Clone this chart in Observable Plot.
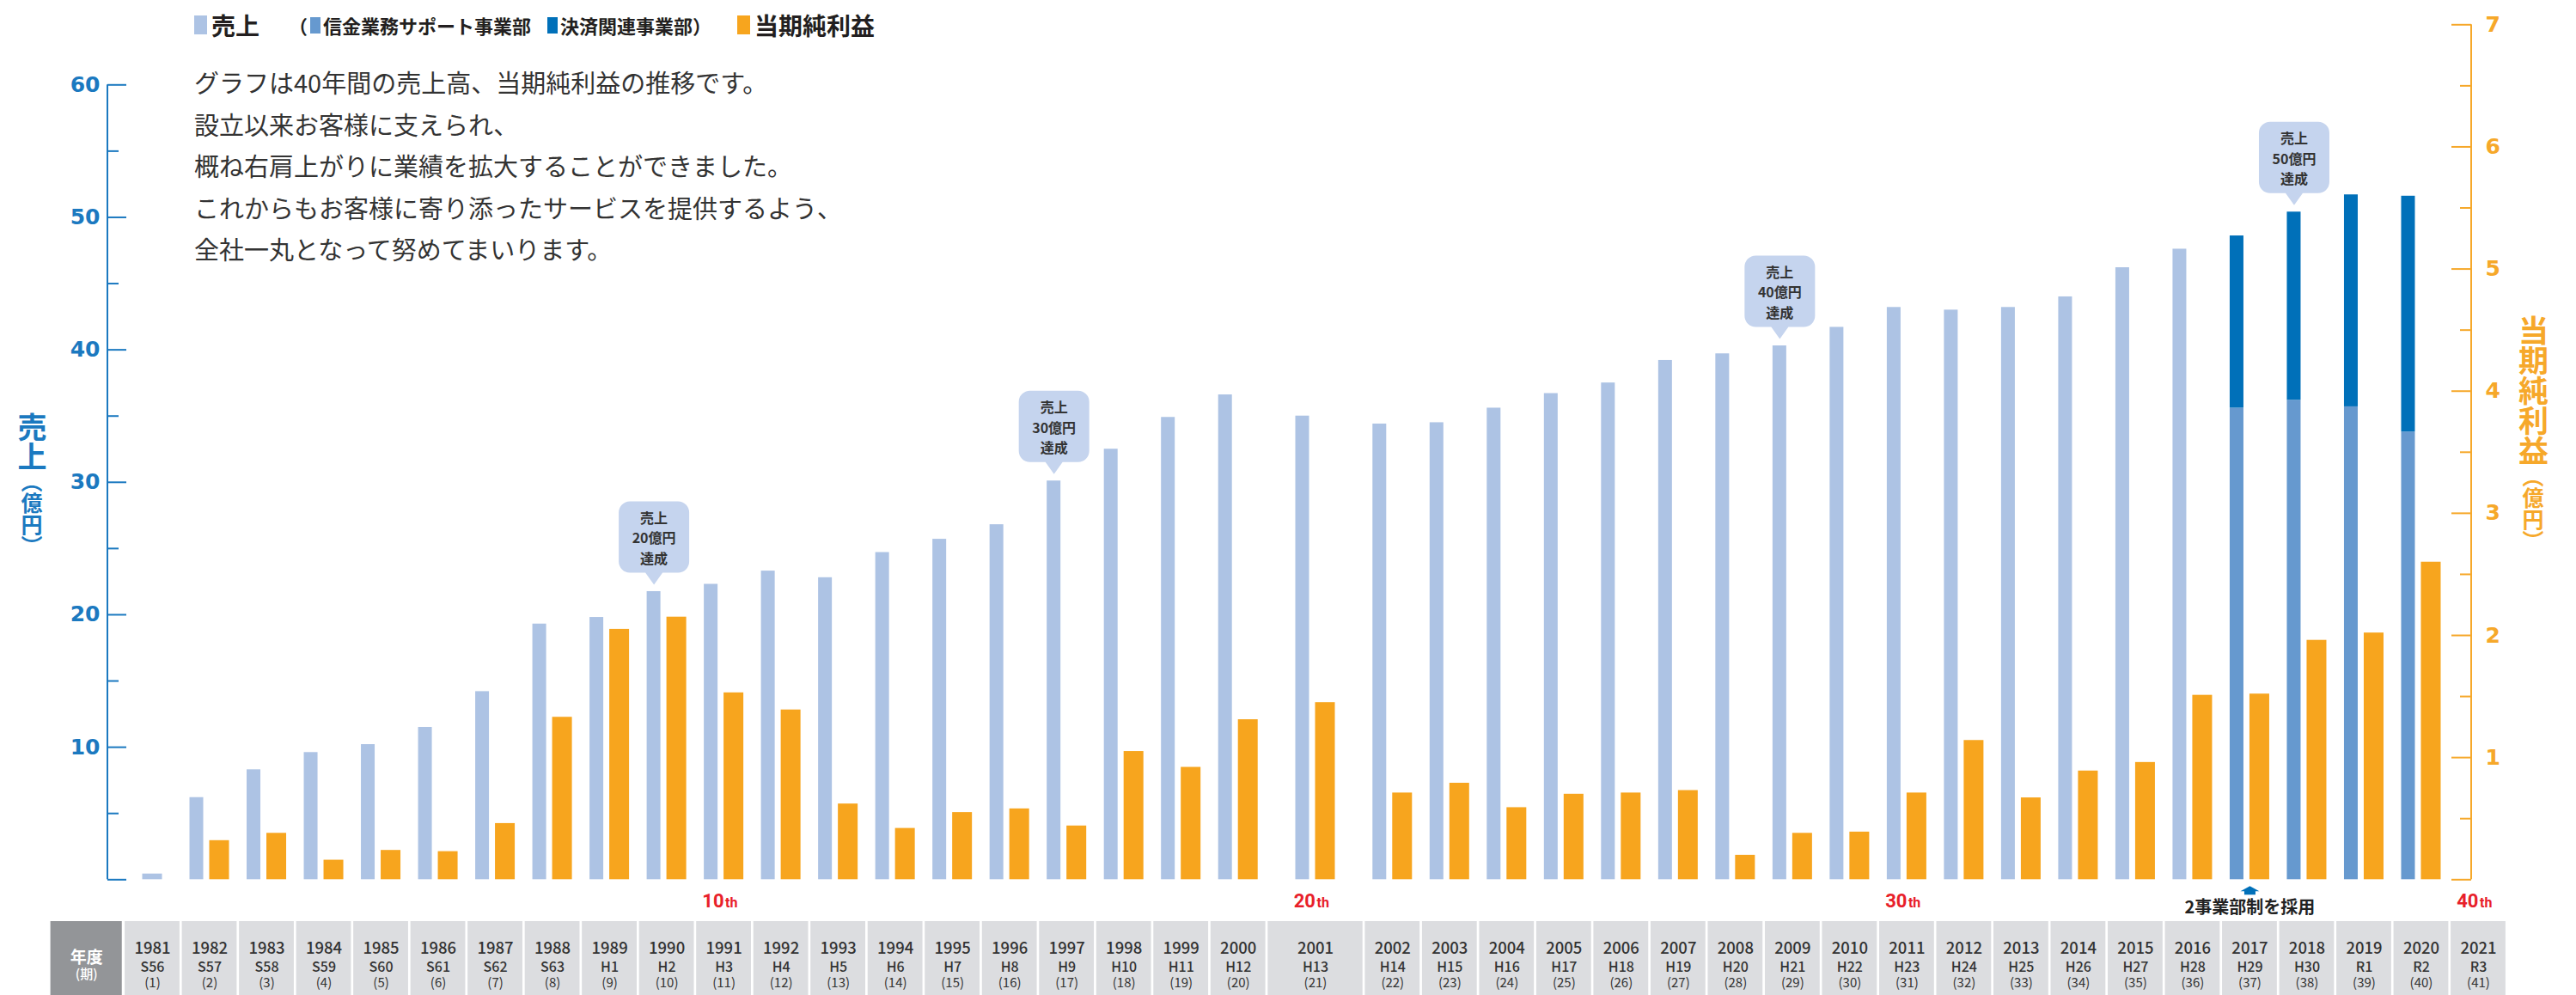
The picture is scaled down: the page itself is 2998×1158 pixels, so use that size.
<!DOCTYPE html>
<html><head><meta charset="utf-8">
<script src="https://cdn.jsdelivr.net/npm/d3@7"></script>
<script src="https://cdn.jsdelivr.net/npm/@observablehq/plot@0.6"></script>
<style>
body{margin:0;background:#fff;}
#wrap{position:relative;width:2998px;height:1158px;overflow:hidden;background:#fff;font-family:'Noto Sans CJK JP',sans-serif;color:#231f20;}
#wrap svg{position:absolute;left:0;overflow:visible;}
.lg{position:absolute;display:flex;align-items:center;white-space:nowrap;font-weight:700;}
.sq{display:inline-block;margin-right:5px;}
#desc{position:absolute;left:226px;top:71px;font-size:29px;line-height:48.5px;color:#333;white-space:nowrap;}
.vt{position:absolute;writing-mode:vertical-rl;font-weight:700;line-height:1;}
</style></head><body><div id="wrap"></div>
<script>
// ---------------- data ----------------
const years = [1981,1982,1983,1984,1985,1986,1987,1988,1989,1990,1991,1992,1993,1994,1995,1996,1997,1998,1999,2000,2001,2002,2003,2004,2005,2006,2007,2008,2009,2010,2011,2012,2013,2014,2015,2016,2017,2018,2019,2020,2021];
const eras = ["S56","S57","S58","S59","S60","S61","S62","S63","H1","H2","H3","H4","H5","H6","H7","H8","H9","H10","H11","H12","H13","H14","H15","H16","H17","H18","H19","H20","H21","H22","H23","H24","H25","H26","H27","H28","H29","H30","R1","R2","R3"];
const periods = ["(1)","(2)","(3)","(4)","(5)","(6)","(7)","(8)","(9)","(10)","(11)","(12)","(13)","(14)","(15)","(16)","(17)","(18)","(19)","(20)","(21)","(22)","(23)","(24)","(25)","(26)","(27)","(28)","(29)","(30)","(31)","(32)","(33)","(34)","(35)","(36)","(37)","(38)","(39)","(40)","(41)"];
// 売上 (億円), total
const sales = [0.43,6.2,8.3,9.6,10.2,11.5,14.2,19.3,19.8,21.75,22.3,23.3,22.8,24.7,25.7,26.8,30.1,32.5,34.9,36.6,35.0,34.4,34.5,35.6,36.7,37.5,39.2,39.7,40.3,41.7,43.2,43.0,43.2,44.0,46.2,47.6,48.6,50.4,51.7,51.6,null];
// 2事業部 breakdown
const segYears = [2017,2018,2019,2020];
const segShinkin = [35.6,36.2,35.7,33.8];   // 信金業務サポート事業部
const segKessai  = [13.0,14.2,16.0,17.8];   // 決済関連事業部
// 当期純利益 (億円)
const profit = [null,0.32,0.38,0.16,0.24,0.23,0.46,1.33,2.05,2.15,1.53,1.39,0.62,0.42,0.55,0.58,0.44,1.05,0.92,1.31,1.45,0.71,0.79,0.59,0.70,0.71,0.73,0.20,0.38,0.39,0.71,1.14,0.67,0.89,0.96,1.51,1.52,1.96,2.02,2.60,null];
const callYears = [1990,1997,2009,2018];
const callLabels = ["20億円","30億円","40億円","50億円"];
const mileYears = [1991,2001,2011,2021];
const mileLabels = ["10","20","30","40"];
const leftTicks = [0,10,20,30,40,50,60];
const leftMinor = [5,15,25,35,45,55];
const rightTicks = [0,1,2,3,4,5,6,7];
const rightMinor = [0.5,1.5,2.5,3.5,4.5,5.5,6.5];

// ---------------- layout / style ----------------
const C_SALES="#adc3e4", C_SHIN="#6699cf", C_KES="#0070b9", C_PROF="#f7a51e";
const C_BLUE="#1b79c0", C_ORG="#f6a82a", C_RED="#e8202a", C_BUB="#c5d4ee";
const W=2998, H_MAIN=1072, H_TAB=86;
const M={left:125,right:122,top:28.3,bottom:48.7};
const FRAME_W=W-M.left-M.right;
const S=9.22; // 売上 units per 当期純利益 unit (aligns the two y axes)
const colW = y => y===2001 ? 1.7 : 1;
let acc=0;
const cols = years.map((year,i)=>{const w=colW(year);const c={year,era:eras[i],period:periods[i],x1:acc,x2:acc+w,cx:acc+w/2,sales:sales[i],profit:profit[i]};acc+=w;return c;});
const TOTAL=acc;
const cxOf = y => cols.find(c=>c.year===y).cx;
const xScale={type:"linear",domain:[0,TOTAL],range:[143.75,2917.25],axis:null};
const font="'Noto Sans CJK JP',sans-serif";

const segRows = segYears.map((year,i)=>({year,cx:cxOf(year),a:segShinkin[i],b:segKessai[i]}));
const plain = cols.filter(c=>c.sales!=null && !segYears.includes(c.year));
const callouts = callYears.map((year,i)=>({year,label:callLabels[i],cx:cxOf(year),v:cols.find(c=>c.year===year).sales}));
const miles = mileYears.map((year,i)=>({cx:cxOf(year),n:mileLabels[i]}));

const bubble={draw(ctx){const w=41,h=83,t=14,pw=10,r=13,top=-t-h,bot=-t;
  ctx.moveTo(0,0);ctx.lineTo(-pw,bot);ctx.lineTo(-w+r,bot);ctx.arcTo(-w,bot,-w,bot-r,r);ctx.lineTo(-w,top+r);ctx.arcTo(-w,top,-w+r,top,r);
  ctx.lineTo(w-r,top);ctx.arcTo(w,top,w,top+r,r);ctx.lineTo(w,bot-r);ctx.arcTo(w,bot,w-r,bot,r);ctx.lineTo(pw,bot);ctx.closePath();}};
const arrow={draw(ctx){ctx.moveTo(0,-5);ctx.lineTo(11,1);ctx.lineTo(6.5,1);ctx.lineTo(6.5,5);ctx.lineTo(-6.5,5);ctx.lineTo(-6.5,1);ctx.lineTo(-11,1);ctx.closePath();}};

const main = Plot.plot({
  width:W,height:H_MAIN,marginLeft:M.left,marginRight:M.right,marginTop:M.top,marginBottom:M.bottom,
  x:xScale,
  y:{domain:[0,7],range:[1023.3,28.3],axis:null},
  style:{fontFamily:font,background:"transparent",overflow:"visible"},
  marks:[
    // bars
    Plot.rect(plain.filter(d=>d.profit!=null),{x1:d=>d.cx-.5,x2:d=>d.cx+.5,y1:0,y2:d=>d.sales/S,insetLeft:10.25,insetRight:40.25,fill:C_SALES}),
    Plot.rect(plain.filter(d=>d.profit==null),{x1:d=>d.cx-.5,x2:d=>d.cx+.5,y1:0,y2:d=>d.sales/S,insetLeft:21.75,insetRight:21.75,fill:C_SALES}),
    Plot.rect(segRows,{x1:d=>d.cx-.5,x2:d=>d.cx+.5,y1:0,y2:d=>d.a/S,insetLeft:10.25,insetRight:40.25,fill:C_SHIN}),
    Plot.rect(segRows,{x1:d=>d.cx-.5,x2:d=>d.cx+.5,y1:d=>d.a/S,y2:d=>(d.a+d.b)/S,insetLeft:10.25,insetRight:40.25,fill:C_KES}),
    Plot.rect(cols.filter(d=>d.profit!=null),{x1:d=>d.cx-.5,x2:d=>d.cx+.5,y1:0,y2:d=>d.profit,insetLeft:33.25,insetRight:10.25,fill:C_PROF}),
    // left axis
    Plot.rect([0],{y1:0,y2:60/S,insetLeft:-1,insetRight:FRAME_W-1,fill:C_BLUE}),
    Plot.ruleY(leftTicks,{y:d=>d/S,insetRight:FRAME_W-22,stroke:C_BLUE,strokeWidth:2}),
    Plot.ruleY(leftMinor,{y:d=>d/S,insetRight:FRAME_W-13,stroke:C_BLUE,strokeWidth:2}),
    Plot.text(leftTicks.filter(d=>d>0),{y:d=>d/S,text:d=>String(d),frameAnchor:"left",dx:-9,textAnchor:"end",fill:C_BLUE,fontSize:25,fontWeight:700,fontFamily:"'DejaVu Sans',sans-serif"}),
    // right axis
    Plot.rect([0],{y1:0,y2:7,insetLeft:FRAME_W-1,insetRight:-1,fill:C_ORG}),
    Plot.ruleY(rightTicks,{y:d=>d,insetLeft:FRAME_W-23,stroke:C_ORG,strokeWidth:2}),
    Plot.ruleY(rightMinor,{y:d=>d,insetLeft:FRAME_W-13,stroke:C_ORG,strokeWidth:2}),
    Plot.text(rightTicks.filter(d=>d>0),{y:d=>d,text:d=>String(d),frameAnchor:"right",dx:16,textAnchor:"start",fill:C_ORG,fontSize:25,fontWeight:700,fontFamily:"'DejaVu Sans',sans-serif"}),
    // callouts
    Plot.dot(callouts,{x:"cx",y:d=>d.v/S,symbol:bubble,r:10,fill:C_BUB,stroke:"none",dx:-15,dy:-8}),
    Plot.text(callouts,{x:"cx",y:d=>d.v/S,text:d=>`売上\n${d.label}\n達成`,dx:-15,dy:-63.5,lineHeight:1.46,fontSize:16,fontWeight:700,fill:"#333"}),
    // milestones
    Plot.text(miles,{x:"cx",text:"n",frameAnchor:"bottom",dy:31.7,lineAnchor:"bottom",textAnchor:"end",fill:C_RED,fontSize:22,fontWeight:700,fontFamily:"Roboto,sans-serif"}),
    Plot.text(miles,{x:"cx",text:()=>"th",frameAnchor:"bottom",dy:31.7,dx:1.5,lineAnchor:"bottom",textAnchor:"start",fill:C_RED,fontSize:16,fontWeight:700,fontFamily:"Roboto,sans-serif"}),
    // 2事業部制
    Plot.dot([2017],{x:d=>cxOf(d),frameAnchor:"bottom",dy:12.4,symbol:arrow,r:5,fill:C_KES,stroke:"none"}),
    Plot.text([2017],{x:d=>cxOf(d),text:()=>"2事業部制を採用",frameAnchor:"bottom",dy:39,lineAnchor:"bottom",fill:"#222",fontSize:20,fontWeight:700})
  ]
});
main.style.top="0px";

const headerCol={x1:-1.28,x2:-0.03};
const table = Plot.plot({
  width:W,height:H_TAB,marginLeft:M.left,marginRight:M.right,marginTop:0,marginBottom:0,
  x:xScale,
  style:{fontFamily:font,background:"transparent"},
  marks:[
    Plot.rect([headerCol],{x1:"x1",x2:"x2",fill:"#939598"}),
    Plot.rect(cols,{x1:"x1",x2:"x2",insetLeft:1.35,insetRight:1.35,fill:"#dcdde0"}),
    Plot.text([headerCol],{x:d=>(d.x1+d.x2)/2,text:()=>"年度",frameAnchor:"top",dy:35,fill:"#fff",fontSize:19,fontWeight:700}),
    Plot.text([headerCol],{x:d=>(d.x1+d.x2)/2,text:()=>"(期)",frameAnchor:"top",dy:56,fill:"#fff",fontSize:15,fontWeight:500}),
    Plot.text(cols,{x:"cx",text:d=>String(d.year),frameAnchor:"top",dy:24.7,fill:"#333",fontSize:18.5,fontWeight:500}),
    Plot.text(cols,{x:"cx",text:"era",frameAnchor:"top",dy:47,fill:"#333",fontSize:16,fontWeight:500}),
    Plot.text(cols,{x:"cx",text:"period",frameAnchor:"top",dy:65.5,fill:"#333",fontSize:15,fontWeight:400})
  ]
});
table.style.top="1072px";

const wrap=document.getElementById("wrap");
wrap.appendChild(main);
wrap.appendChild(table);

// legend
const legendItems=[
  {left:226,html:`<span class="sq" style="width:15px;height:22px;background:${C_SALES}"></span><span style="font-size:28px">売上</span>`},
  {left:336,html:`<span style="font-size:22px;margin-right:3px">（</span><span class="sq" style="width:12px;height:19px;background:${C_SHIN};margin-right:3px"></span><span style="font-size:22px">信金業務サポート事業部</span>`},
  {left:637,html:`<span class="sq" style="width:12px;height:19px;background:${C_KES};margin-right:3px"></span><span style="font-size:22px">決済関連事業部）</span>`},
  {left:858,html:`<span class="sq" style="width:15px;height:22px;background:${C_PROF}"></span><span style="font-size:28px">当期純利益</span>`}
];
for(const it of legendItems){const d=document.createElement("div");d.className="lg";d.style.left=it.left+"px";d.style.top="10px";d.style.height="38px";d.innerHTML=it.html;wrap.appendChild(d);}

const desc=document.createElement("div");desc.id="desc";
desc.innerHTML=["グラフは40年間の売上高、当期純利益の推移です。","設立以来お客様に支えられ、","概ね右肩上がりに業績を拡大することができました。","これからもお客様に寄り添ったサービスを提供するよう、","全社一丸となって努めてまいります。"].join("<br>");
wrap.appendChild(desc);

const lt=document.createElement("div");lt.className="vt";lt.style.cssText+=`left:20px;top:480px;color:${C_BLUE};`;
lt.innerHTML=`<span style="font-size:34px">売上</span><span style="font-size:25px">（億円）</span>`;wrap.appendChild(lt);
const rt=document.createElement("div");rt.className="vt";rt.style.cssText+=`left:2931px;top:367px;color:${C_ORG};`;
rt.innerHTML=`<span style="font-size:35px">当期純利益</span><span style="font-size:25px">（億円）</span>`;wrap.appendChild(rt);
</script></body></html>
